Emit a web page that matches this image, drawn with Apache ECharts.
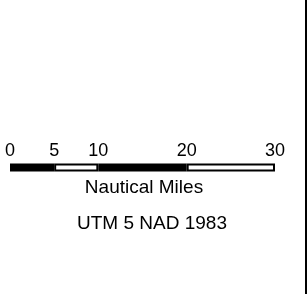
<!DOCTYPE html>
<html>
<head>
<meta charset="utf-8">
<script src="https://cdn.jsdelivr.net/npm/echarts@6/dist/echarts.min.js"></script>
<style>
  html, body { margin: 0; padding: 0; background: #fff; }
  #chart { width: 308px; height: 294px; }
</style>
</head>
<body>
<div id="chart"></div>
<script>
// scale bar values (nautical miles)
const tickLabels = [0, 5, 10, 20, 30]
const segmentLengths = [5, 5, 10, 10]
const segmentColors = ['#000', '#fff', '#000', '#fff']
const unitLabel = 'Nautical Miles'
const projectionLabel = 'UTM 5 NAD 1983'

const FONT = 'Liberation Sans, Arial, sans-serif'

const chart = echarts.init(document.getElementById('chart'), null, { renderer: 'canvas' })

const series = segmentLengths.map((len, i) => ({
    type: 'bar',
    stack: 'scale',
    data: [len],
    barWidth: 8,
    animation: false,
    itemStyle: { color: segmentColors[i], borderColor: '#000', borderWidth: 2 }
}))

chart.setOption({
    backgroundColor: '#fff',
    animation: false,
    grid: { left: 10, right: 33, top: 163, height: 9 },
    xAxis: {
        type: 'value',
        position: 'top',
        min: 0,
        max: 30,
        interval: 5,
        axisLine: { show: false },
        axisTick: { show: false },
        splitLine: { show: false },
        axisLabel: {
            margin: 3,
            color: '#000',
            fontSize: 18,
            fontFamily: FONT,
            formatter: v => tickLabels.includes(v) ? String(v) : ''
        }
    },
    yAxis: {
        type: 'category',
        data: ['bar'],
        show: false
    },
    series: series,
    graphic: [
        {
            type: 'text',
            style: { x: 144, y: 188, text: unitLabel, fill: '#000', font: '19px ' + FONT, textAlign: 'center', textVerticalAlign: 'middle' }
        },
        {
            type: 'text',
            style: { x: 152, y: 224, text: projectionLabel, fill: '#000', font: '19px ' + FONT, textAlign: 'center', textVerticalAlign: 'middle' }
        },
        {
            type: 'rect',
            shape: { x: 305, y: 0, width: 2, height: 294 },
            style: { fill: '#000' }
        }
    ]
})
</script>
</body>
</html>
